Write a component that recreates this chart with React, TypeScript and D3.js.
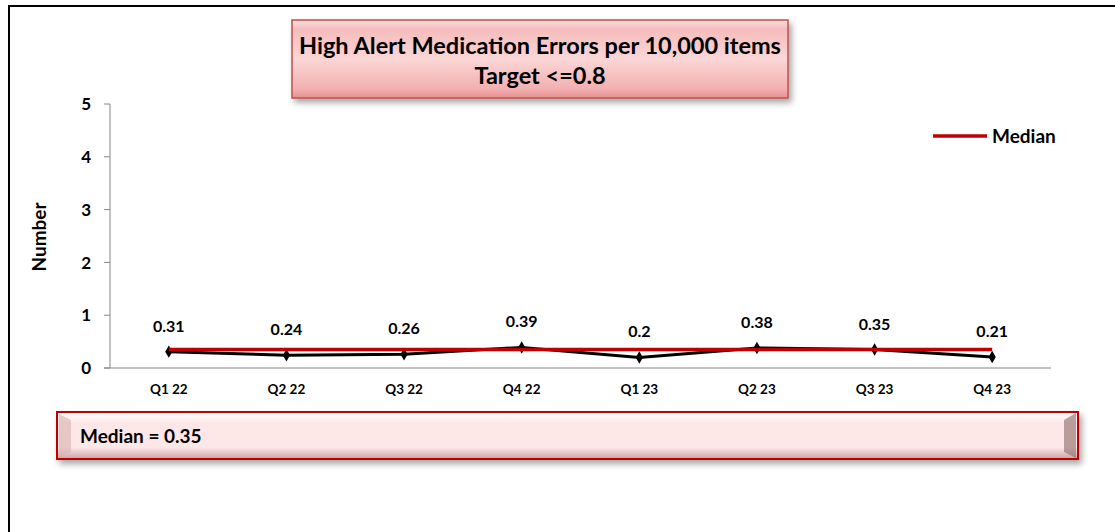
import React from "react";
import * as d3 from "d3";

const categories = ["Q1 22", "Q2 22", "Q3 22", "Q4 22", "Q1 23", "Q2 23", "Q3 23", "Q4 23"];
const values = [0.31, 0.24, 0.26, 0.39, 0.2, 0.38, 0.35, 0.21];
const medianValue = 0.35;
const yTicks = [0, 1, 2, 3, 4, 5];
const titleLines = ["High Alert Medication Errors per 10,000 items", "Target <=0.8"];

const W = 1115;
const H = 532;
const FONT = "Lato, 'Open Sans', sans-serif";

export default function App() {
  const x = d3.scaleBand<string>().domain(categories).range([110, 1051]).padding(0);
  const y = d3.scaleLinear().domain([0, 5]).range([368, 104]);
  const cx = (c: string) => (x(c) as number) + x.bandwidth() / 2;

  const line = d3
    .line<number>()
    .x((_, i) => cx(categories[i]))
    .y((d) => y(d));

  const medianLine = d3
    .line<number>()
    .x((_, i) => cx(categories[i]))
    .y(() => y(medianValue));

  const diamond = d3.symbol().type(d3.symbolDiamond).size(45)();

  return (
    <svg
      width={W}
      height={H}
      style={{ position: "absolute", left: 0, top: 0, background: "#fff" }}
      fontFamily={FONT}
    >
      <defs>
        <linearGradient id="tg" x1="0" y1="0" x2="0" y2="1">
          <stop offset="0" stopColor="#fbe0e0" />
          <stop offset="0.12" stopColor="#f5bcbc" />
          <stop offset="0.5" stopColor="#fbd6d6" />
          <stop offset="0.88" stopColor="#f3b0b0" />
          <stop offset="1" stopColor="#e49090" />
        </linearGradient>
        <linearGradient id="mg" x1="0" y1="0" x2="0" y2="1">
          <stop offset="0" stopColor="#ffffff" />
          <stop offset="0.25" stopColor="#fde6e6" />
          <stop offset="0.75" stopColor="#fde8e8" />
          <stop offset="1" stopColor="#c9a3a3" />
        </linearGradient>
        <filter id="sh" x="-5%" y="-20%" width="115%" height="160%">
          <feGaussianBlur in="SourceAlpha" stdDeviation="3" />
          <feOffset dx="3" dy="4" result="b" />
          <feComponentTransfer>
            <feFuncA type="linear" slope="0.35" />
          </feComponentTransfer>
          <feMerge>
            <feMergeNode />
            <feMergeNode in="SourceGraphic" />
          </feMerge>
        </filter>
      </defs>

      {/* outer frame */}
      <line x1={8} y1={6} x2={W} y2={6} stroke="#000" strokeWidth={2} />
      <line x1={9} y1={5} x2={9} y2={H} stroke="#000" strokeWidth={2} />

      {/* title box */}
      <g filter="url(#sh)">
        <rect x={292} y={20} width={496} height={78} fill="url(#tg)" stroke="#c0504d" strokeWidth={1.5} />
      </g>
      {titleLines.map((t, i) => (
        <text
          key={i}
          x={540}
          y={54 + i * 30}
          textAnchor="middle"
          fontSize={23.5}
          fontWeight="bold"
          fill="#000"
        >
          {t}
        </text>
      ))}

      {/* y axis */}
      <line x1={110} y1={y(5)} x2={110} y2={y(0)} stroke="#868686" strokeWidth={1} />
      {yTicks.map((t) => (
        <g key={t}>
          <line x1={104} x2={110} y1={y(t)} y2={y(t)} stroke="#868686" />
          <text x={91} y={y(t)} dy="0.36em" textAnchor="end" fontSize={17} fontWeight="bold">
            {t}
          </text>
        </g>
      ))}
      <text
        transform={`translate(46,237) rotate(-90)`}
        textAnchor="middle"
        fontSize={19}
        fontWeight="bold"
      >
        Number
      </text>

      {/* x axis */}
      <line x1={104} x2={1051} y1={y(0)} y2={y(0)} stroke="#868686" strokeWidth={1} />
      {categories.map((c) => (
        <text key={c} x={cx(c)} y={394} textAnchor="middle" fontSize={13.5} fontWeight="bold">
          {c}
        </text>
      ))}

      {/* data line */}
      <path d={line(values) as string} fill="none" stroke="#000" strokeWidth={3} />
      {values.map((v, i) => (
        <path key={i} d={diamond as string} transform={`translate(${cx(categories[i])},${y(v)})`} fill="#000" />
      ))}

      {/* median line */}
      <path d={medianLine(values) as string} fill="none" stroke="#c00000" strokeWidth={3.5} />

      {/* value labels */}
      {values.map((v, i) => (
        <text
          key={i}
          x={cx(categories[i])}
          y={y(v) - 20}
          textAnchor="middle"
          fontSize={16}
          fontWeight="bold"
        >
          {String(v)}
        </text>
      ))}

      {/* legend */}
      <line x1={933} x2={987} y1={136} y2={136} stroke="#c00000" strokeWidth={3.5} />
      <text x={992} y={136} dy="0.36em" fontSize={19} fontWeight="bold">
        Median
      </text>

      {/* median box */}
      <g filter="url(#sh)">
        <rect x={57} y={412} width={1021} height={47} fill="url(#mg)" stroke="#c00000" strokeWidth={2} />
        <polygon points="1064,420 1076,413 1076,458 1064,452" fill="#8c6a6a" opacity={0.6} />
        <polygon points="59,414 71,420 71,452 59,457" fill="#d8b0b0" opacity={0.6} />
      </g>
      <text x={80} y={436} dy="0.36em" fontSize={19} fontWeight="bold">
        Median = 0.35
      </text>
    </svg>
  );
}
